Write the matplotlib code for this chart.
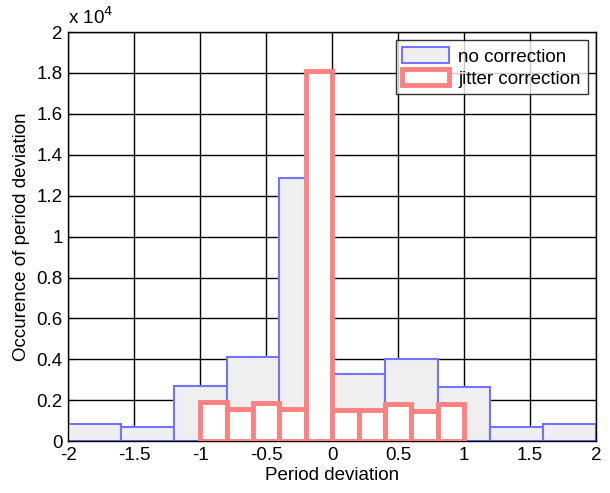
import matplotlib.pyplot as plt
import numpy as np
from matplotlib.patches import Patch
from matplotlib.ticker import FuncFormatter

plt.rcParams["font.family"] = ["Liberation Sans", "DejaVu Sans"]

# bin edges and counts
edges_no_corr = [-2.0, -1.6, -1.2, -0.8, -0.4, 0.0, 0.4, 0.8, 1.2, 1.6, 2.0]
counts_no_corr = [820, 720, 2680, 4110, 12850, 3270, 4030, 2640, 720, 820]

edges_jitter = [-1.0, -0.8, -0.6, -0.4, -0.2, 0.0, 0.2, 0.4, 0.6, 0.8, 1.0]
counts_jitter = [1910, 1580, 1860, 1580, 18100, 1530, 1530, 1830, 1500, 1800]

x_ticks = [-2, -1.5, -1, -0.5, 0, 0.5, 1, 1.5, 2]
y_ticks = np.arange(0, 20001, 2000)

fs = 13.5

fig = plt.figure(figsize=(6.1, 4.93), dpi=100)
ax = fig.add_axes([0.112, 0.105, 0.865, 0.83])

blue_edge = (0.45, 0.45, 1.0)
red_edge = (1.0, 0.5, 0.5)

ax.bar(edges_no_corr[:-1], counts_no_corr, width=np.diff(edges_no_corr), align="edge",
       facecolor="#efefef", edgecolor=blue_edge, linewidth=1.5, zorder=2)
ax.bar(edges_jitter[:-1], counts_jitter, width=np.diff(edges_jitter), align="edge",
       facecolor="white", edgecolor=red_edge, linewidth=3.5, zorder=3)

ax.set_xlim(-2, 2)
ax.set_ylim(0, 20000)
ax.set_xticks(x_ticks)
ax.set_xticklabels(["-2", "-1.5", "-1", "-0.5", "0", "0.5", "1", "1.5", "2"])
ax.set_yticks(y_ticks)
ax.yaxis.set_major_formatter(FuncFormatter(lambda v, p: f"{v / 1e4:g}"))
ax.tick_params(direction="in", length=4, labelsize=fs, pad=4)
ax.grid(True, color="black", linewidth=1.0, linestyle="-")
ax.set_axisbelow(True)
for s in ax.spines.values():
    s.set_linewidth(1.0)

ax.set_xlabel("Period deviation", fontsize=fs, labelpad=2)
ax.set_ylabel("Occurence of period deviation", fontsize=fs, labelpad=5)
ax.text(0.0, 1.01, r"x 10$^4$", transform=ax.transAxes, fontsize=fs, ha="left", va="bottom")

handles = [
    Patch(facecolor="#efefef", edgecolor=blue_edge, linewidth=1.5, label="no correction"),
    Patch(facecolor="white", edgecolor=red_edge, linewidth=3.5, label="jitter correction"),
]
leg = ax.legend(handles=handles, loc="upper right", fontsize=fs, frameon=True, fancybox=False,
                borderaxespad=0.45, handlelength=2.5, handleheight=0.95, handletextpad=0.5,
                labelspacing=0.2, borderpad=0.35)
leg.get_frame().set_edgecolor("black")
leg.get_frame().set_linewidth(1.0)

plt.savefig("out.png", dpi=100)
